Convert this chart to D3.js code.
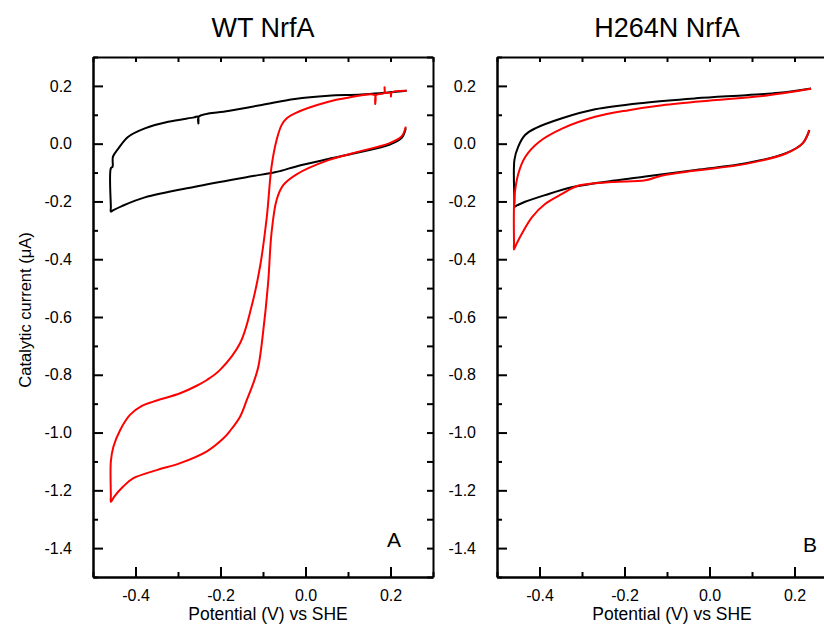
<!DOCTYPE html>
<html>
<head>
<meta charset="utf-8">
<script src="https://cdn.jsdelivr.net/npm/d3@7"></script>
<style>
  body { margin: 0; background: #fff; }
  svg { display: block; font-family: "Liberation Sans", Arial, sans-serif; }
</style>
</head>
<body>
<svg id="chart" width="824" height="624"></svg>
<script>
// tick values
var xMajor = [-0.4, -0.2, 0, 0.2];
var xMinor = [-0.5, -0.3, -0.1, 0.1, 0.3];
var yMajor = [0.2, 0, -0.2, -0.4, -0.6, -0.8, -1.0, -1.2, -1.4];
var yMinor = [0.3, 0.1, -0.1, -0.3, -0.5, -0.7, -0.9, -1.1, -1.3, -1.5];

var panelTitles = ["WT NrfA", "H264N NrfA"];
var panelLetters = ["A", "B"];

// [potential V, current uA]
var wtBlack = [[0.236,0.053],[0.226,0.019],[0.195,-0.005],[0.132,-0.028],[0.054,-0.053],[-0.009,-0.074],
  [-0.044,-0.088],[-0.06,-0.095],[-0.072,-0.099],[-0.142,-0.117],[-0.26,-0.149],[-0.378,-0.186],
  [-0.432,-0.216],[-0.452,-0.23],[-0.458,-0.235],[-0.458,-0.22],[-0.458,-0.085],[-0.454,-0.08],
  [-0.453,-0.045],[-0.44,-0.016],
  [-0.417,0.024],[-0.378,0.053],[-0.323,0.076],[-0.262,0.091],[-0.253,0.094],[-0.252,0.07],[-0.251,0.094],
  [-0.182,0.113],[-0.103,0.134],[-0.025,0.155],[0.054,0.166],[0.132,0.170],[0.238,0.183]];

var wtRed = [[0.236,0.059],[0.226,0.025],[0.195,0.0],[0.132,-0.025],[0.054,-0.057],[-0.021,-0.106],
  [-0.052,-0.143],[-0.068,-0.195],[-0.08,-0.31],[-0.088,-0.483],[-0.1,-0.656],[-0.111,-0.772],
  [-0.123,-0.83],[-0.138,-0.887],[-0.154,-0.945],[-0.178,-0.995],[-0.193,-1.02],[-0.232,-1.065],
  [-0.295,-1.106],[-0.35,-1.13],[-0.405,-1.158],[-0.429,-1.187],[-0.45,-1.222],[-0.458,-1.24],
  [-0.458,-1.22],[-0.458,-1.1],
  [-0.452,-1.049],[-0.436,-0.991],[-0.413,-0.939],[-0.385,-0.908],[-0.358,-0.893],[-0.295,-0.864],
  [-0.256,-0.838],[-0.232,-0.818],[-0.201,-0.783],[-0.154,-0.691],[-0.127,-0.564],[-0.107,-0.426],
  [-0.091,-0.253],[-0.08,-0.08],[-0.068,0.013],[-0.056,0.065],[-0.044,0.088],[-0.025,0.105],[0.054,0.145],
  [0.093,0.157],[0.163,0.168],[0.164,0.137],[0.166,0.168],[0.185,0.175],[0.186,0.195],[0.188,0.176],
  [0.2,0.176],[0.201,0.163],[0.203,0.177],[0.238,0.183]];

var hBlack = [[0.235,0.047],[0.219,0.001],[0.18,-0.033],[0.086,-0.068],[-0.032,-0.091],[-0.151,-0.114],
  [-0.269,-0.137],[-0.324,-0.151],[-0.387,-0.178],[-0.434,-0.201],[-0.452,-0.213],[-0.459,-0.218],
  [-0.459,-0.2],[-0.459,-0.056],
  [-0.45,-0.01],[-0.434,0.03],[-0.41,0.053],[-0.347,0.088],[-0.269,0.119],[-0.151,0.142],
  [-0.032,0.157],[0.086,0.168],[0.164,0.176],[0.239,0.191]];

var hRed = [[0.235,0.047],[0.219,0.001],[0.18,-0.034],[0.086,-0.07],[-0.032,-0.093],[-0.111,-0.11],
  [-0.151,-0.127],[-0.229,-0.133],[-0.308,-0.145],[-0.347,-0.174],[-0.387,-0.209],[-0.418,-0.255],
  [-0.442,-0.313],[-0.455,-0.35],[-0.46,-0.366],[-0.46,-0.345],[-0.459,-0.186],[-0.45,-0.105],
  [-0.434,-0.047],[-0.402,0.005],
  [-0.347,0.052],[-0.269,0.093],[-0.19,0.116],[-0.111,0.133],[0.007,0.15],[0.125,0.165],[0.239,0.19]];

var panelSeries = [[wtBlack, wtRed], [hBlack, hRed]];
var seriesColors = ["#000000", "#ff0000"];

var svg = d3.select("svg#chart");
var plotTop = 57, plotBottom = 577;
var panelLefts = [93, 497];
var panelWidth = 340;

var fmt = function(d) { return d.toFixed(1); };

panelLefts.forEach(function(left, p) {
  var x = d3.scaleLinear().domain([-0.5, 0.3]).range([left, left + panelWidth]);
  var y = d3.scaleLinear().domain([-1.5, 0.3]).range([plotBottom, plotTop]);
  var g = svg.append("g").attr("class", "panel");

  var line = d3.line()
    .x(function(d) { return x(d[0]); })
    .y(function(d) { return y(d[1]); })
    .curve(d3.curveCatmullRom.alpha(0.5));

  g.selectAll("path.cv")
    .data(panelSeries[p])
    .enter().append("path")
    .attr("class", "cv")
    .attr("d", line)
    .attr("fill", "none")
    .attr("stroke", function(d, i) { return seriesColors[i]; })
    .attr("stroke-width", 2)
    .attr("stroke-linejoin", "round");

  // bottom axis: major + minor ticks, pointing in
  g.append("g").attr("transform", "translate(0," + plotBottom + ")")
    .call(d3.axisBottom(x).tickValues(xMajor).tickFormat(fmt).tickSizeInner(-10).tickSizeOuter(0).tickPadding(13));
  g.append("g").attr("transform", "translate(0," + plotBottom + ")")
    .call(d3.axisBottom(x).tickValues(xMinor).tickFormat("").tickSizeInner(-5).tickSizeOuter(0));
  // top axis
  g.append("g").attr("transform", "translate(0," + plotTop + ")")
    .call(d3.axisTop(x).tickValues(xMajor.concat(xMinor)).tickFormat("").tickSizeInner(-5).tickSizeOuter(0));

  // left axis
  g.append("g").attr("transform", "translate(" + left + ",0)")
    .call(d3.axisLeft(y).tickValues(yMajor).tickFormat(fmt).tickSizeInner(-10).tickSizeOuter(0).tickPadding(21));
  g.append("g").attr("transform", "translate(" + left + ",0)")
    .call(d3.axisLeft(y).tickValues(yMinor).tickFormat("").tickSizeInner(-5).tickSizeOuter(0));
  // right axis
  g.append("g").attr("transform", "translate(" + (left + panelWidth) + ",0)")
    .call(d3.axisRight(y).tickValues(yMajor.concat(yMinor)).tickFormat("").tickSizeInner(-6).tickSizeOuter(0));

  g.selectAll(".domain").attr("stroke", "#000").attr("stroke-width", 2);
  g.selectAll(".tick line").attr("stroke", "#000").attr("stroke-width", 2);
  g.selectAll(".tick text").attr("font-size", 16).attr("fill", "#000")
    .attr("font-family", "'Liberation Sans', Arial, sans-serif");

  g.append("text")
    .attr("x", left + panelWidth / 2)
    .attr("y", 37)
    .attr("text-anchor", "middle")
    .attr("font-size", 27)
    .text(panelTitles[p]);

  g.append("text")
    .attr("x", left + panelWidth / 2 + 5)
    .attr("y", 620)
    .attr("text-anchor", "middle")
    .attr("font-size", 17.5)
    .text("Potential (V) vs SHE");

  g.append("text")
    .attr("x", p === 0 ? left + 294 : left + 306)
    .attr("y", p === 0 ? 547 : 552)
    .attr("font-size", 21)
    .text(panelLetters[p]);
});

svg.append("text")
  .attr("transform", "translate(31,310) rotate(-90)")
  .attr("text-anchor", "middle")
  .attr("font-size", 16.5)
  .text("Catalytic current (\u03bcA)");
</script>
</body>
</html>
